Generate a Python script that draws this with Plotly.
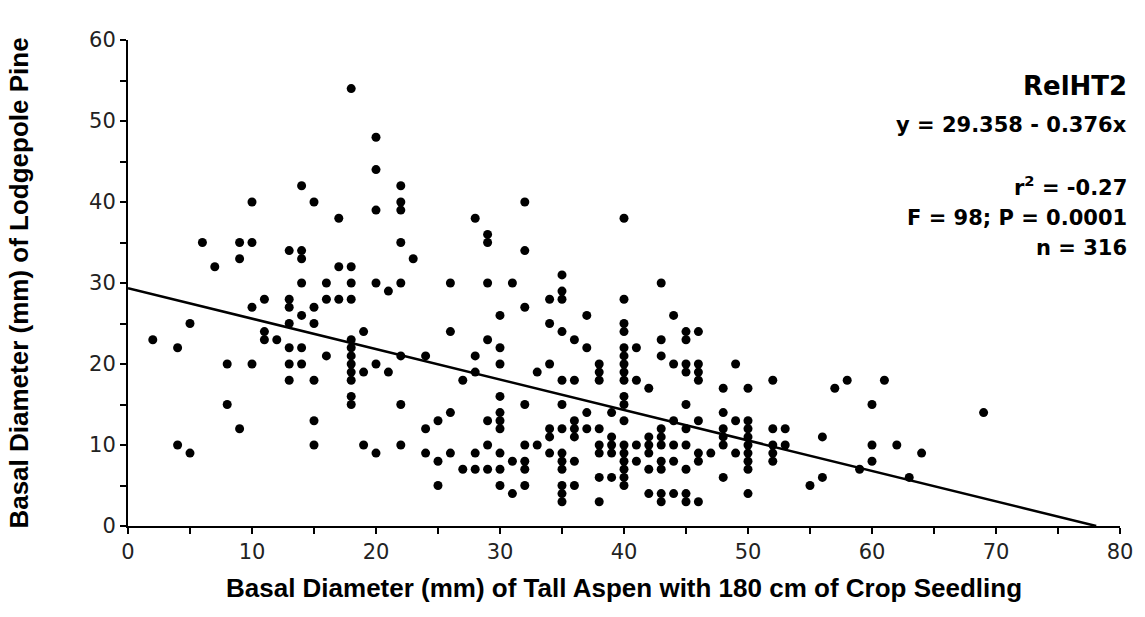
import plotly.graph_objects as go

# Scatter data: x = aspen basal diameter, y = pine basal diameter
columns = {
    2: [23],
    4: [22, 10],
    5: [25, 9],
    6: [35],
    7: [32],
    8: [20, 15],
    9: [35, 33, 12],
    10: [40, 35, 27, 20],
    11: [28, 24, 23],
    12: [23],
    13: [34, 28, 27, 25, 22, 20, 18],
    14: [42, 34, 33, 30, 26, 22, 20],
    15: [40, 27, 25, 18, 13, 10],
    16: [30, 28, 21],
    17: [38, 32, 28],
    18: [54, 32, 30, 28, 23, 22, 21, 20, 19, 18, 16, 15],
    19: [24, 19, 10],
    20: [48, 44, 39, 30, 20, 9],
    21: [29, 19],
    22: [42, 40, 39, 35, 30, 21, 15, 10],
    23: [33],
    24: [21, 12, 9],
    25: [13, 8, 5],
    26: [30, 24, 14, 9],
    27: [18, 7],
    28: [38, 21, 19, 9, 7],
    29: [36, 35, 30, 23, 13, 10, 7],
    30: [26, 22, 20, 16, 14, 13, 12, 9, 7, 5],
    31: [30, 8, 4],
    32: [40, 34, 27, 15, 10, 8, 7, 5],
    33: [19, 10],
    34: [28, 25, 20, 12, 11, 9],
    35: [31, 29, 28, 24, 18, 15, 12, 9, 8, 7, 5, 4, 3],
    36: [23, 18, 13, 12, 11, 8, 5],
    37: [26, 22, 14, 12],
    38: [20, 19, 18, 12, 10, 9, 6, 3],
    39: [14, 11, 10, 9, 6],
    40: [38, 28, 25, 24, 22, 21, 20, 19, 18, 16, 15, 13, 10, 9, 8, 7, 6, 5],
    41: [22, 18, 10, 8],
    42: [17, 11, 10, 9, 7, 4],
    43: [30, 23, 21, 12, 11, 10, 8, 7, 4, 3],
    44: [26, 20, 13, 10, 8, 4],
    45: [24, 23, 20, 19, 15, 12, 10, 7, 4, 3],
    46: [24, 20, 19, 18, 13, 9, 8, 3],
    47: [9],
    48: [17, 14, 12, 11, 10, 6],
    49: [20, 13, 9],
    50: [17, 13, 12, 11, 10, 9, 8, 7, 4],
    52: [18, 12, 10, 9, 8],
    53: [12, 10],
    55: [5],
    56: [11, 6],
    57: [17],
    58: [18],
    59: [7],
    60: [15, 10, 8],
    61: [18],
    62: [10],
    63: [6],
    64: [9],
    69: [14],
}
x_vals = [x for x, ys in columns.items() for _ in ys]
y_vals = [y for ys in columns.values() for y in ys]

intercept = 29.358
slope = -0.376
line_x = [0, -intercept / slope]
line_y = [intercept + slope * v for v in line_x]

x_ticks = [0, 10, 20, 30, 40, 50, 60, 70, 80]
y_ticks = [0, 10, 20, 30, 40, 50, 60]

stats_lines = [
    ("RelHT2", 26, 0.905),
    ("y = 29.358 - 0.376x", 21, 0.825),
    ("r<sup>2</sup> = -0.27", 21, 0.700),
    ("F = 98; P = 0.0001", 21, 0.634),
    ("n = 316", 21, 0.572),
]

fig = go.Figure()
fig.add_trace(go.Scatter(
    x=x_vals, y=y_vals, mode="markers",
    marker=dict(color="black", size=9, line=dict(width=0)),
    showlegend=False, hoverinfo="x+y"))
fig.add_trace(go.Scatter(
    x=line_x, y=line_y, mode="lines",
    line=dict(color="black", width=2.5),
    showlegend=False, hoverinfo="skip"))

tick_font = dict(family="DejaVu Sans", size=21, color="#222")
title_font = dict(family="Liberation Sans", size=26, color="black", weight="bold")

fig.update_xaxes(
    range=[0, 80], tickvals=x_ticks, ticktext=[str(v) for v in x_ticks],
    showline=True, linecolor="black", linewidth=2,
    ticks="outside", ticklen=6, tickwidth=2, tickcolor="black",
    minor=dict(dtick=5, ticks="outside", ticklen=6, tickwidth=2, tickcolor="black", showgrid=False),
    showgrid=False, zeroline=False, tickfont=tick_font,
    title=dict(text="Basal Diameter (mm) of Tall Aspen with 180 cm of Crop Seedling",
               font=title_font, standoff=16))
fig.update_yaxes(
    range=[0, 60], tickvals=y_ticks, ticktext=[str(v) for v in y_ticks],
    showline=True, linecolor="black", linewidth=2,
    ticks="outside", ticklen=6, tickwidth=2, tickcolor="black",
    minor=dict(dtick=5, ticks="outside", ticklen=6, tickwidth=2, tickcolor="black", showgrid=False),
    showgrid=False, zeroline=False, tickfont=tick_font,
    title=dict(text="Basal Diameter (mm) of Lodgepole Pine", font=title_font, standoff=53))

for text, size, yp in stats_lines:
    fig.add_annotation(
        text=text, xref="paper", yref="paper", x=1.009, y=yp,
        xanchor="right", yanchor="middle", showarrow=False,
        font=dict(family="DejaVu Sans", size=size, color="black", weight="bold"))

fig.update_layout(
    width=1145, height=617,
    margin=dict(l=128, r=25, t=40, b=91),
    plot_bgcolor="white", paper_bgcolor="white")

fig.write_html("out.html")
